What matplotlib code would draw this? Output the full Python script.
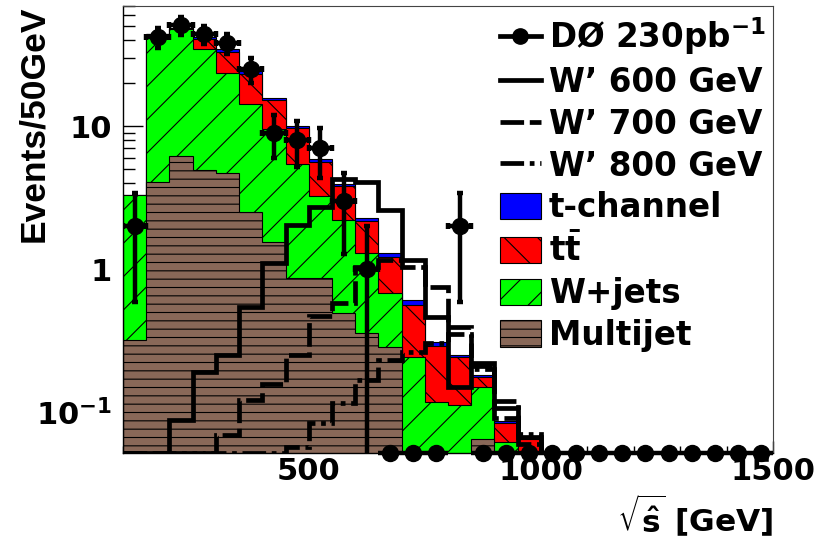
import numpy as np
import matplotlib
matplotlib.use('Agg')
import matplotlib.pyplot as plt
from matplotlib.lines import Line2D
from matplotlib.patches import Patch
from matplotlib.ticker import LogLocator, NullFormatter, MultipleLocator
from matplotlib.font_manager import FontProperties

# ---------------- data ----------------
bin_edges = [100, 150, 200, 250, 300, 350, 400, 450, 500, 550, 600, 650, 700,
             750, 800, 850, 900, 950, 1000, 1050, 1100, 1150, 1200, 1250,
             1300, 1350, 1400, 1450, 1500]

data_counts = [2, 42, 51, 44, 38, 25, 9, 8, 7, 3, 1, 0, 0, 0, 2, 0,
               0, 0, 0, 0, 0, 0, 0, 0, 0, 0, 0, 0]

multijet = [0.32, 4.04, 6.2, 4.93, 4.67, 2.52, 1.55, 0.86, 0.86, 0.49, 0.356,
            0.286, 0, 0, 0, 0.0645, 0, 0, 0, 0, 0, 0, 0, 0, 0, 0, 0, 0]
wjets = [2.97, 40.0, 41.6, 29.6, 19.0, 11.7, 7.95, 4.62, 2.38, 1.71, 0.93,
         0.39, 0.244, 0.118, 0.112, 0.0855, 0.062, 0.02, 0, 0, 0, 0, 0, 0,
         0, 0, 0, 0]
ttbar = [0.02, 0.3, 0.8, 6.1, 9.4, 9.1, 5.7, 4.16, 2.39, 1.6, 0.88, 0.54,
         0.32, 0.17, 0.13, 0.027, 0.022, 0.045, 0, 0, 0, 0, 0, 0, 0, 0, 0, 0]
tchannel = [0.01, 0.2, 0.4, 1.5, 1.4, 1.0, 0.65, 0.36, 0.22, 0.17, 0.12,
            0.07, 0.04, 0.02, 0.01, 0.005, 0.002, 0.001, 0, 0, 0, 0, 0, 0,
            0, 0, 0, 0]

wprime_600 = [0, 0, 0.088, 0.191, 0.25, 0.545, 1.10, 2.03, 2.73, 4.3, 4.06,
              2.59, 1.16, 0.464, 0.150, 0.219, 0.107, 0.067, 0, 0, 0, 0, 0,
              0, 0, 0, 0, 0]
wprime_700 = [0, 0, 0, 0, 0.069, 0.121, 0.158, 0.25, 0.469, 0.575, 1.04,
              1.16, 1.04, 0.75, 0.39, 0.21, 0.09, 0.06, 0, 0, 0, 0, 0, 0,
              0, 0, 0, 0]
wprime_800 = [0, 0, 0, 0, 0, 0, 0, 0.057, 0.084, 0.116, 0.168, 0.231, 0.264,
              0.306, 0.35, 0.2, 0.12, 0.07, 0, 0, 0, 0, 0, 0, 0, 0, 0, 0]

y_ticks = [0.1, 1, 10]
y_tick_labels = [r'$10^{-1}$', '1', '10']
x_ticks = [500, 1000, 1500]
x_tick_labels = ['500', '1000', '1500']
legend_labels = ['DØ 230pb$^{-1}$', 'W’ 600 GeV', 'W’ 700 GeV', 'W’ 800 GeV',
                 't-channel', r'$t\bar{t}$', 'W+jets', 'Multijet']

# ---------------- style ----------------
plt.rcParams['mathtext.fontset'] = 'dejavusans'
plt.rcParams['mathtext.default'] = 'bf'
plt.rcParams['hatch.linewidth'] = 0.8

C_TCH = '#0000FF'
C_TT = '#FF0000'
C_WJ = '#00FF00'
C_MJ = '#896858'

fig = plt.figure(figsize=(8.3, 5.45), dpi=100)
ax = fig.add_axes([123 / 830, 1 - 452.5 / 545, 650 / 830, 447 / 545])
ax.set_yscale('log')
YMIN, YMAX = 0.052, 70
ax.set_xlim(bin_edges[0], bin_edges[-1])
ax.set_ylim(YMIN, YMAX)

edges = np.array(bin_edges, dtype=float)
base = 1e-3
c_mj = np.array(multijet, dtype=float)
c_wj = c_mj + np.array(wjets)
c_tt = c_wj + np.array(ttbar)
c_tc = c_tt + np.array(tchannel)

layers = [(c_tc, C_TCH, None), (c_tt, C_TT, '\\'), (c_wj, C_WJ, '/'),
          (c_mj, C_MJ, '--')]
for z, (top, col, hatch) in enumerate(layers):
    ax.stairs(np.maximum(top, base), edges, baseline=base, fill=True,
              facecolor=col, edgecolor='black', hatch=hatch, linewidth=0.8,
              zorder=2 + z * 0.1)

dash700 = (0, (5, 1.2))
dash800 = (0, (5, 1.2, 1, 1.2))
for vals, ls in [(wprime_800, dash800), (wprime_700, dash700), (wprime_600, '-')]:
    ax.stairs(np.maximum(np.array(vals, dtype=float), YMIN), edges,
              baseline=None, color='black', linewidth=3.4, linestyle=ls,
              zorder=4)

centers = 0.5 * (edges[:-1] + edges[1:])
half = 0.5 * np.diff(edges)
counts = np.array(data_counts, dtype=float)
nz = counts > 0
ax.errorbar(centers[nz], counts[nz], yerr=np.sqrt(counts[nz]), xerr=half[nz],
            fmt='o', color='black', ms=11.5, elinewidth=3.2, capsize=2.5,
            capthick=3.2, zorder=10)
ax.errorbar(centers[~nz], np.full((~nz).sum(), YMIN), xerr=half[~nz],
            fmt='o', color='black', ms=11.5, elinewidth=3.2, zorder=10,
            clip_on=False)

# ---------------- axes ----------------
for s in ['top', 'right']:
    ax.spines[s].set_color('#444444')
    ax.spines[s].set_linewidth(0.8)
for s in ['left', 'bottom']:
    ax.spines[s].set_color('black')
    ax.spines[s].set_linewidth(1.0)

tick_font = dict(family='DejaVu Sans', weight='bold', size=22)
ax.set_yticks(y_ticks)
ax.set_yticklabels(y_tick_labels, **tick_font)
ax.yaxis.set_minor_locator(LogLocator(base=10, subs=np.arange(2, 10)))
ax.yaxis.set_minor_formatter(NullFormatter())
ax.tick_params(axis='y', which='major', direction='in', length=14.4, width=1,
               pad=8, right=False)
ax.tick_params(axis='y', which='minor', direction='in', length=8.6, width=1,
               right=False)

ax.set_xticks(x_ticks)
ax.set_xticklabels(x_tick_labels, **tick_font)
ax.xaxis.set_minor_locator(MultipleLocator(100))
ax.tick_params(axis='x', which='major', direction='in', length=9, width=1,
               pad=3, top=False)
ax.tick_params(axis='x', which='minor', direction='in', length=5, width=1,
               top=False)

ax.set_ylabel('Events/50GeV', fontfamily='Liberation Sans', fontweight='bold',
              fontsize=25.5, loc='top')
ax.yaxis.set_label_coords(-0.112, 1.0)
ax.set_xlabel(r'$\sqrt{\hat{s}}$ [GeV]', fontfamily='DejaVu Sans',
              fontweight='bold', fontsize=22.5, loc='right')
ax.xaxis.set_label_coords(1.0, -0.09)

# ---------------- legend ----------------
handles = [
    Line2D([], [], color='black', marker='o', ms=11, lw=3.4),
    Line2D([], [], color='black', lw=3.4),
    Line2D([], [], color='black', lw=3.4, ls=dash700),
    Line2D([], [], color='black', lw=3.4, ls=dash800),
    Patch(facecolor=C_TCH, edgecolor='black', linewidth=0.8),
    Patch(facecolor=C_TT, edgecolor='black', hatch='\\', linewidth=0.8),
    Patch(facecolor=C_WJ, edgecolor='black', hatch='/', linewidth=0.8),
    Patch(facecolor=C_MJ, edgecolor='black', hatch='--', linewidth=0.8),
]
leg = ax.legend(handles, legend_labels, loc='upper left',
                bbox_to_anchor=(0.58, 0.978), frameon=False, borderpad=0,
                borderaxespad=0, handlelength=1.25, handleheight=0.87,
                handletextpad=0.25, labelspacing=0.27,
                prop=FontProperties(family='DejaVu Sans', weight='bold',
                                    size=23.5))
leg.set_zorder(20)

fig.savefig('out.png', dpi=100, facecolor='white')
